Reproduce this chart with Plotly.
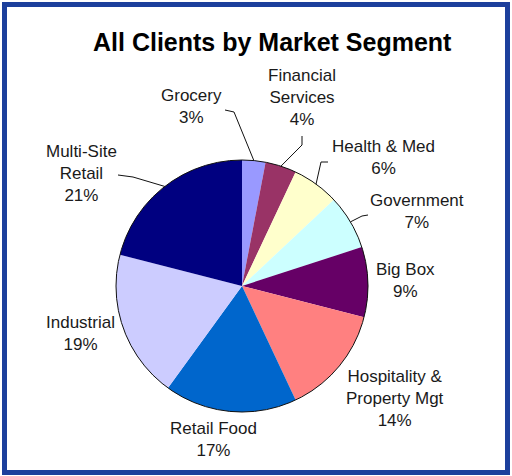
import math
import plotly.graph_objects as go

# ---- data ----
segments = ["Grocery", "Financial Services", "Health & Med", "Government", "Big Box",
            "Hospitality & Property Mgt", "Retail Food", "Industrial", "Multi-Site Retail"]
shares = [3, 4, 6, 7, 9, 14, 17, 19, 21]
label_text = ["Grocery", "Financial<br>Services", "Health & Med", "Government", "Big Box",
              "Hospitality &<br>Property Mgt", "Retail Food", "Industrial", "Multi-Site<br>Retail"]
colors = ["#9999FF", "#993366", "#FFFFCC", "#CCFFFF", "#660066",
          "#FF8080", "#0066CC", "#CCCCFF", "#000080"]

W, H = 512, 476
FONT = "Liberation Sans, Arial, sans-serif"

# layout (pixels)
cx, cy, R = 242, 286, 126
label_pos = {  # center of label block in px
    "Grocery": (191, 106),
    "Financial Services": (302, 98),
    "Health & Med": (383, 158),
    "Government": (417, 211),
    "Big Box": (405, 280),
    "Hospitality & Property Mgt": (395, 398),
    "Retail Food": (213, 439),
    "Industrial": (80, 333),
    "Multi-Site Retail": (81, 173),
}
leader_start = {  # label-side polyline points (px)
    "Grocery": [(225, 110), (234, 112)],
    "Financial Services": [(302, 136), (302, 145)],
    "Health & Med": [(328, 162), (321, 162)],
    "Government": [(368, 215), (362, 216)],
    "Multi-Site Retail": [(118, 175), (133, 177)],
}

def px(x):
    return x / W

def py(y):
    return 1 - y / H

fig = go.Figure()
fig.add_trace(go.Pie(
    labels=segments, values=shares, sort=False, direction="clockwise", rotation=0,
    marker=dict(colors=colors, line=dict(width=0)),
    textinfo="none", hoverinfo="label+percent", showlegend=False,
    domain=dict(x=[px(cx - R), px(cx + R)], y=[py(cy + R), py(cy - R)]),
))

shapes = []
# outline circle of pie
shapes.append(dict(type="circle", xref="paper", yref="paper",
                   x0=px(cx - R), x1=px(cx + R), y0=py(cy + R), y1=py(cy - R),
                   line=dict(color="#111111", width=1)))

total = sum(shares)
cum = 0
annotations = []
for seg, val, txt in zip(segments, shares, label_text):
    mid = (cum + val / 2) / total * 2 * math.pi
    cum += val
    pct = round(val / total * 100)
    lx, ly = label_pos[seg]
    annotations.append(dict(
        x=px(lx), y=py(ly), xref="paper", yref="paper", showarrow=False,
        text=f"{txt}<br>{pct}%", align="center", xanchor="center", yanchor="middle",
        font=dict(family=FONT, size=17, color="#1a1a1a"),
    ))
    if seg in leader_start:
        ex = cx + R * math.sin(mid)
        ey = cy - R * math.cos(mid)
        pts = leader_start[seg] + [(ex, ey)]
        path = "M " + " L ".join(f"{px(x)},{py(y)}" for x, y in pts)
        shapes.append(dict(type="path", xref="paper", yref="paper", path=path,
                           line=dict(color="#111111", width=1)))

annotations.append(dict(
    x=px(272), y=py(42), xref="paper", yref="paper", showarrow=False,
    text="<b>All Clients by Market Segment</b>", xanchor="center", yanchor="middle",
    font=dict(family=FONT, size=25, color="#000000"),
))

# frame
shapes.append(dict(type="rect", xref="paper", yref="paper",
                   x0=px(4.5), x1=px(507.5), y0=py(472.5), y1=py(4.5),
                   line=dict(color="#1C3F9C", width=5)))

fig.update_layout(
    width=W, height=H, margin=dict(l=0, r=0, t=0, b=0),
    paper_bgcolor="white", plot_bgcolor="white",
    shapes=shapes, annotations=annotations,
)
fig.write_html("out.html", config={"displayModeBar": False},
               post_script="document.body.style.margin='0';document.body.style.overflow='hidden';")
